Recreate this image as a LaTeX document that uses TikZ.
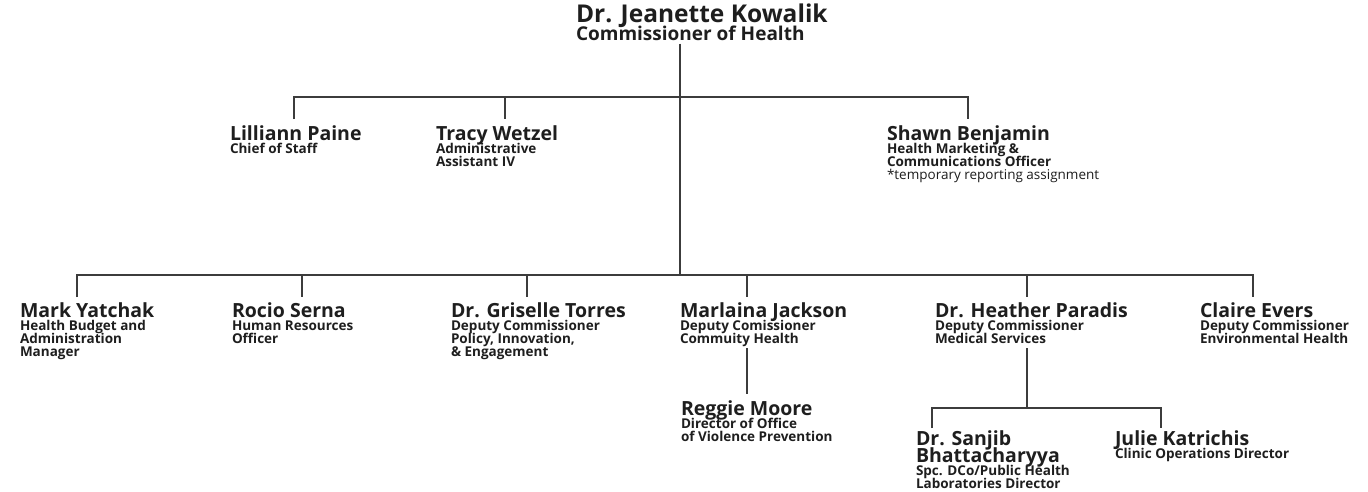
\documentclass[tikz,border=0pt]{standalone}
\usepackage{fontspec}
\setmainfont{Open Sans}
\definecolor{linegray}{HTML}{3C3C3C}
\definecolor{ink}{HTML}{1E1E1E}
\tikzset{
  link/.style={draw=linegray, line width=1.5pt},
  person/.style={anchor=base west, inner sep=0pt, outer sep=0pt, text=ink},
}
\newcommand\nmA{\fontsize{24.5}{24}\selectfont\bfseries}
\newcommand\tlA{\fontsize{19}{18.5}\selectfont\bfseries}
\newcommand\nmB{\fontsize{19.5}{17}\selectfont\bfseries}
\newcommand\tlB{\fontsize{13.5}{13}\selectfont\bfseries}
\newcommand\card[2]{\parbox[t]{300pt}{\raggedright\lineskiplimit=-\maxdimen\nmB #1\par\tlB #2\par}}
\begin{document}
\begin{tikzpicture}[x=1pt,y=-1pt]
\useasboundingbox (0,0) rectangle (1368,491);
\fill[white] (0,0) rectangle (1368,491);

% top
\node[person] (boss) at (576,22) {\parbox[t]{300pt}{\lineskiplimit=-\maxdimen\nmA Dr. Jeanette Kowalik\par\tlA Commissioner of Health\par}};

% level 2
\node[person] (lilliann) at (230,140) {\card{Lilliann Paine}{Chief of Staff}};
\node[person] (tracy) at (436,140) {\card{Tracy Wetzel}{Administrative\\Assistant IV}};
\node[person] (shawn) at (887,140) {\card{Shawn Benjamin}{Health Marketing \&\\Communications Officer\\{\mdseries *temporary reporting assignment}}};

% level 3
\node[person] (mark) at (20,317) {\card{Mark Yatchak}{Health Budget and\\Administration\\Manager}};
\node[person] (rocio) at (232,317) {\card{Rocio Serna}{Human Resources\\Officer}};
\node[person] (griselle) at (451,317) {\card{Dr. Griselle Torres}{Deputy Commissioner\\Policy, Innovation,\\\& Engagement}};
\node[person] (marlaina) at (680,317) {\card{Marlaina Jackson}{Deputy Comissioner\\Commuity Health}};
\node[person] (heather) at (935,317) {\card{Dr. Heather Paradis}{Deputy Commissioner\\Medical Services}};
\node[person] (claire) at (1200,317) {\card{Claire Evers}{Deputy Commissioner\\Environmental Health}};

% level 4
\node[person] (reggie) at (681,415) {\card{Reggie Moore}{Director of Office\\of Violence Prevention}};
\node[person] (sanjib) at (916,445) {\card{Dr. Sanjib\\Bhattacharyya}{Spc. DCo/Public Health\\Laboratories Director}};
\node[person] (julie) at (1115,445) {\card{Julie Katrichis}{Clinic Operations Director}};

% junction coordinates
\coordinate (j1) at (680,97);
\coordinate (j2) at (680,275);
\coordinate (b1L) at (294,97);
\coordinate (b1T) at (505,97);
\coordinate (b1S) at (968,97);
\coordinate (b2M) at (77,275);
\coordinate (b2R) at (302,275);
\coordinate (b2G) at (527,275);
\coordinate (b2J) at (747,275);
\coordinate (b2H) at (1027,275);
\coordinate (b2C) at (1253,275);
\coordinate (b3) at (1027,408);
\coordinate (b3S) at (932,408);
\coordinate (b3J) at (1161,408);

% connectors
\draw[link] ([yshift=-3pt] j1 |- boss.south) -- (j2);
\draw[link] ([yshift=21pt] b1L |- lilliann.base) -- (b1L) -- (b1S) -- ([yshift=21pt] b1S |- shawn.base);
\draw[link] (b1T) -- ([yshift=21pt] b1T |- tracy.base);

\draw[link] ([yshift=20pt] b2M |- mark.base) -- (b2M) -- (b2C) -- ([yshift=20pt] b2C |- claire.base);
\draw[link] (b2R) -- ([yshift=20pt] b2R |- rocio.base);
\draw[link] (b2G) -- ([yshift=20pt] b2G |- griselle.base);
\draw[link] (b2J) -- ([yshift=20pt] b2J |- marlaina.base);
\draw[link] (b2H) -- ([yshift=20pt] b2H |- heather.base);

\draw[link] ([yshift=-31pt] b2J |- marlaina.base) -- ([yshift=21pt] b2J |- reggie.base);
\draw[link] ([yshift=-31pt] b3 |- heather.base) -- (b3);
\draw[link] ([yshift=17pt] b3S |- sanjib.base) -- (b3S) -- (b3J) -- ([yshift=17pt] b3J |- julie.base);
\end{tikzpicture}
\end{document}
